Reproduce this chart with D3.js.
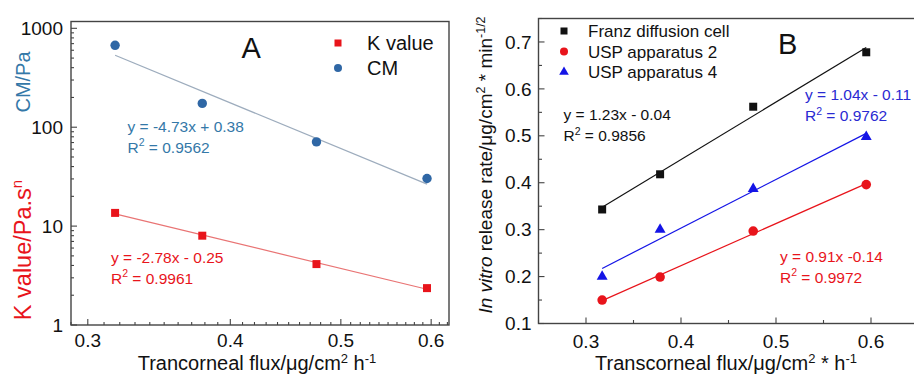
<!DOCTYPE html>
<html>
<head>
<meta charset="utf-8">
<script src="https://cdn.jsdelivr.net/npm/d3@7"></script>
<style>
  html, body { margin: 0; padding: 0; background: #fff; }
  svg { display: block; font-family: "Liberation Sans", Arial, sans-serif; }
</style>
</head>
<body>
<svg id="chart" width="914" height="376"></svg>
<script>
// ---------- data ----------
const flux = [0.317, 0.378, 0.476, 0.595];
const kValue = [13.6, 8.0, 4.13, 2.36];
const cmValue = [673, 174, 71, 30.3];
const franz = [0.343, 0.418, 0.562, 0.678];
const usp2 = [0.150, 0.199, 0.297, 0.396];
const usp4 = [0.200, 0.300, 0.387, 0.498];

const leftXTicks = [0.3, 0.4, 0.5, 0.6];
const leftYTicks = [1, 10, 100, 1000];
const rightXTicks = [0.3, 0.4, 0.5, 0.6];
const rightYTicks = [0.1, 0.2, 0.3, 0.4, 0.5, 0.6, 0.7];

const leftLegend = ["K value", "CM"];
const rightLegend = ["Franz diffusion cell", "USP apparatus 2", "USP apparatus 4"];
const eqCM = ["y = -4.73x + 0.38", "0.9562"];
const eqK = ["y = -2.78x - 0.25", "0.9961"];
const eqFranz = ["y = 1.23x - 0.04", "0.9856"];
const eqUsp4 = ["y = 1.04x - 0.11", "0.9762"];
const eqUsp2 = ["y = 0.91x -0.14", "0.9972"];

// ---------- colours ----------
const RED = "#e8141b", RED_LINE = "#e97474";
const CM_MARK = "#2f67a5", CM_TEXT = "#3478a8", CM_LINE = "#9dacbd";
const BLUE = "#1414e6", BLUE_TEXT = "#2a2ad2";
const BLACK = "#111";
const AXIS = "#444";

const svg = d3.select("#chart");

function regress(xs, ys) {
  const mx = d3.mean(xs), my = d3.mean(ys);
  let sxy = 0, sxx = 0;
  xs.forEach((x, i) => { sxy += (x - mx) * (ys[i] - my); sxx += (x - mx) * (x - mx); });
  const b = sxy / sxx;
  return { b, a: my - b * mx };
}

function eqText(g, x, y, lines, color) {
  g.append("text").attr("x", x).attr("y", y).attr("fill", color)
    .attr("font-size", 15.5).text(lines[0]);
  const t2 = g.append("text").attr("x", x).attr("y", y + 21).attr("fill", color)
    .attr("font-size", 15.5);
  t2.append("tspan").text("R");
  t2.append("tspan").attr("font-size", 10.5).attr("dy", -6.5).text("2");
  t2.append("tspan").attr("dy", 6.5).text(" = " + lines[1]);
}

// =============== LEFT PANEL ===============
const L = { x0: 71, x1: 449, y0: 21.5, y1: 325 };
const lx = d3.scaleLog().domain([0.29, 0.622]).range([L.x0, L.x1]);
const ly = d3.scaleLog().domain([1, 1172]).range([L.y1, L.y0]);
const gl = svg.append("g");

const lxMinor = d3.range(29, 63).map(d => d / 100).filter(v => v >= 0.29 && v <= 0.622);
lxMinor.forEach(v => {
  const major = leftXTicks.some(t => Math.abs(t - v) < 1e-9);
  gl.append("line").attr("x1", lx(v)).attr("x2", lx(v))
    .attr("y1", L.y1).attr("y2", L.y1 - (major ? 6 : 3))
    .attr("stroke", AXIS).attr("stroke-width", 1.1);
});
const lyMinor = [];
[1, 10, 100, 1000].forEach(d => { for (let k = 1; k <= 9; k++) { const v = d * k; if (v <= 1172) lyMinor.push(v); } });
lyMinor.forEach(v => {
  const major = leftYTicks.includes(v);
  gl.append("line").attr("x1", L.x0).attr("x2", L.x0 + (major ? 6 : 3))
    .attr("y1", ly(v)).attr("y2", ly(v))
    .attr("stroke", AXIS).attr("stroke-width", 1.1);
});
gl.append("rect").attr("x", L.x0).attr("y", L.y0).attr("width", L.x1 - L.x0).attr("height", L.y1 - L.y0)
  .attr("fill", "none").attr("stroke", AXIS).attr("stroke-width", 1.4);

leftXTicks.forEach(v => {
  gl.append("text").attr("x", lx(v)).attr("y", 347).attr("text-anchor", "middle")
    .attr("font-size", 19).attr("fill", "#111").text(d3.format(".1f")(v));
});
leftYTicks.forEach(v => {
  gl.append("text").attr("x", 63).attr("y", ly(v)).attr("dy", "0.35em").attr("text-anchor", "end")
    .attr("font-size", 19).attr("fill", "#111").text(v);
});

function logFit(ys) {
  const r = regress(flux.map(Math.log10), ys.map(Math.log10));
  const ends = [flux[0], flux[flux.length - 1]];
  return ends.map(x => [x, Math.pow(10, r.a + r.b * Math.log10(x))]);
}
const lineL = d3.line().x(d => lx(d[0])).y(d => ly(d[1]));
gl.append("path").attr("d", lineL(logFit(cmValue))).attr("stroke", CM_LINE).attr("stroke-width", 1.2).attr("fill", "none");
gl.append("path").attr("d", lineL(logFit(kValue))).attr("stroke", RED_LINE).attr("stroke-width", 1.2).attr("fill", "none");

flux.forEach((x, i) => {
  gl.append("path").attr("transform", `translate(${lx(x)},${ly(kValue[i])})`)
    .attr("d", d3.symbol(d3.symbolSquare, 64)()).attr("fill", RED);
  gl.append("circle").attr("cx", lx(x)).attr("cy", ly(cmValue[i])).attr("r", 4.7).attr("fill", CM_MARK);
});

gl.append("rect").attr("x", 334.5).attr("y", 39.5).attr("width", 7).attr("height", 7).attr("fill", RED);
gl.append("text").attr("x", 367).attr("y", 50).attr("font-size", 20).attr("fill", "#111").text(leftLegend[0]);
gl.append("circle").attr("cx", 338).attr("cy", 68).attr("r", 4).attr("fill", CM_MARK);
gl.append("text").attr("x", 367).attr("y", 75).attr("font-size", 20).attr("fill", "#111").text(leftLegend[1]);

gl.append("text").attr("x", 241.5).attr("y", 57.5).attr("font-size", 29).attr("fill", "#111").text("A");

eqText(gl, 127.5, 131.5, eqCM, CM_TEXT);
eqText(gl, 111, 262.5, eqK, RED);

const ltx = gl.append("text").attr("x", 257).attr("y", 370).attr("text-anchor", "middle")
  .attr("font-size", 20).attr("fill", "#111");
ltx.append("tspan").text("Trancorneal flux/μg/cm");
ltx.append("tspan").attr("font-size", 13).attr("dy", -7).text("2");
ltx.append("tspan").attr("dy", 7).text(" h");
ltx.append("tspan").attr("font-size", 13).attr("dy", -7).text("-1");

const lyt1 = gl.append("text").attr("transform", "translate(31,250) rotate(-90)")
  .attr("text-anchor", "middle").attr("font-size", 23.5).attr("fill", RED);
lyt1.append("tspan").text("K value/Pa.s");
lyt1.append("tspan").attr("font-size", 15).attr("dy", -9).text("n");
gl.append("text").attr("transform", "translate(30,82) rotate(-90)")
  .attr("text-anchor", "middle").attr("font-size", 20).attr("fill", CM_TEXT).text("CM/Pa");

// =============== RIGHT PANEL ===============
const R = { x0: 538.5, x1: 918.5, y0: 18.5, y1: 323.5 };
const rx = d3.scaleLinear().domain([0.25, 0.65]).range([R.x0, R.x1]);
const ry = d3.scaleLinear().domain([0.1, 0.75]).range([R.y1, R.y0]);
const gr = svg.append("g");

d3.range(25, 66, 5).map(d => d / 100).forEach(v => {
  const major = rightXTicks.some(t => Math.abs(t - v) < 1e-9);
  gr.append("line").attr("x1", rx(v)).attr("x2", rx(v))
    .attr("y1", R.y1).attr("y2", R.y1 - (major ? 6 : 3.5))
    .attr("stroke", AXIS).attr("stroke-width", 1.1);
});
d3.range(10, 76, 5).map(d => d / 100).forEach(v => {
  const major = rightYTicks.some(t => Math.abs(t - v) < 1e-9);
  gr.append("line").attr("x1", R.x0).attr("x2", R.x0 + (major ? 6 : 3.5))
    .attr("y1", ry(v)).attr("y2", ry(v))
    .attr("stroke", AXIS).attr("stroke-width", 1.1);
});
gr.append("rect").attr("x", R.x0).attr("y", R.y0).attr("width", R.x1 - R.x0).attr("height", R.y1 - R.y0)
  .attr("fill", "none").attr("stroke", AXIS).attr("stroke-width", 1.4);

rightXTicks.forEach(v => {
  gr.append("text").attr("x", rx(v)).attr("y", 348).attr("text-anchor", "middle")
    .attr("font-size", 19).attr("fill", "#111").text(d3.format(".1f")(v));
});
rightYTicks.forEach(v => {
  gr.append("text").attr("x", 531.5).attr("y", ry(v)).attr("dy", "0.35em").attr("text-anchor", "end")
    .attr("font-size", 19).attr("fill", "#111").text(d3.format(".1f")(v));
});

const lineR = d3.line().x(d => rx(d[0])).y(d => ry(d[1]));
function linFit(ys) {
  const r = regress(flux, ys);
  return [flux[0], flux[flux.length - 1]].map(x => [x, r.a + r.b * x]);
}
[[franz, BLACK], [usp4, BLUE], [usp2, RED]].forEach(([ys, c]) => {
  gr.append("path").attr("d", lineR(linFit(ys))).attr("stroke", c).attr("stroke-width", 1.2).attr("fill", "none");
});

flux.forEach((x, i) => {
  gr.append("path").attr("transform", `translate(${rx(x)},${ry(franz[i])})`)
    .attr("d", d3.symbol(d3.symbolSquare, 64)()).attr("fill", BLACK);
  gr.append("circle").attr("cx", rx(x)).attr("cy", ry(usp2[i])).attr("r", 4.8).attr("fill", RED);
  gr.append("path").attr("transform", `translate(${rx(x)},${ry(usp4[i])})`)
    .attr("d", d3.symbol(d3.symbolTriangle, 52)()).attr("fill", BLUE);
});

const legY = [31, 51.5, 72];
gr.append("rect").attr("x", 560.5).attr("y", legY[0] - 3.5).attr("width", 7).attr("height", 7).attr("fill", BLACK);
gr.append("circle").attr("cx", 564).attr("cy", legY[1]).attr("r", 4).attr("fill", RED);
gr.append("path").attr("transform", `translate(564,${legY[2]})`).attr("d", d3.symbol(d3.symbolTriangle, 40)()).attr("fill", BLUE);
rightLegend.forEach((t, i) => {
  gr.append("text").attr("x", 588).attr("y", legY[i] + 6).attr("font-size", 17).attr("fill", "#111").text(t);
});

gr.append("text").attr("x", 778).attr("y", 53.5).attr("font-size", 29).attr("fill", "#111").text("B");

eqText(gr, 563.5, 120, eqFranz, BLACK);
eqText(gr, 805, 100, eqUsp4, BLUE_TEXT);
eqText(gr, 780, 261.5, eqUsp2, RED);

const rtx = gr.append("text").attr("x", 726).attr("y", 370).attr("text-anchor", "middle")
  .attr("font-size", 20).attr("fill", "#111");
rtx.append("tspan").text("Transcorneal flux/μg/cm");
rtx.append("tspan").attr("font-size", 13).attr("dy", -7).text("2");
rtx.append("tspan").attr("dy", 7).text(" * h");
rtx.append("tspan").attr("font-size", 13).attr("dy", -7).text("-1");

const rty = gr.append("text").attr("transform", "translate(492,165) rotate(-90)")
  .attr("text-anchor", "middle").attr("font-size", 19).attr("fill", "#111");
rty.append("tspan").attr("font-style", "italic").text("In vitro");
rty.append("tspan").text(" release rate/μg/cm");
rty.append("tspan").attr("font-size", 12.5).attr("dy", -7).text("2");
rty.append("tspan").attr("dy", 7).text(" * min");
rty.append("tspan").attr("font-size", 12.5).attr("dy", -7).text("-1/2");
</script>
</body>
</html>
